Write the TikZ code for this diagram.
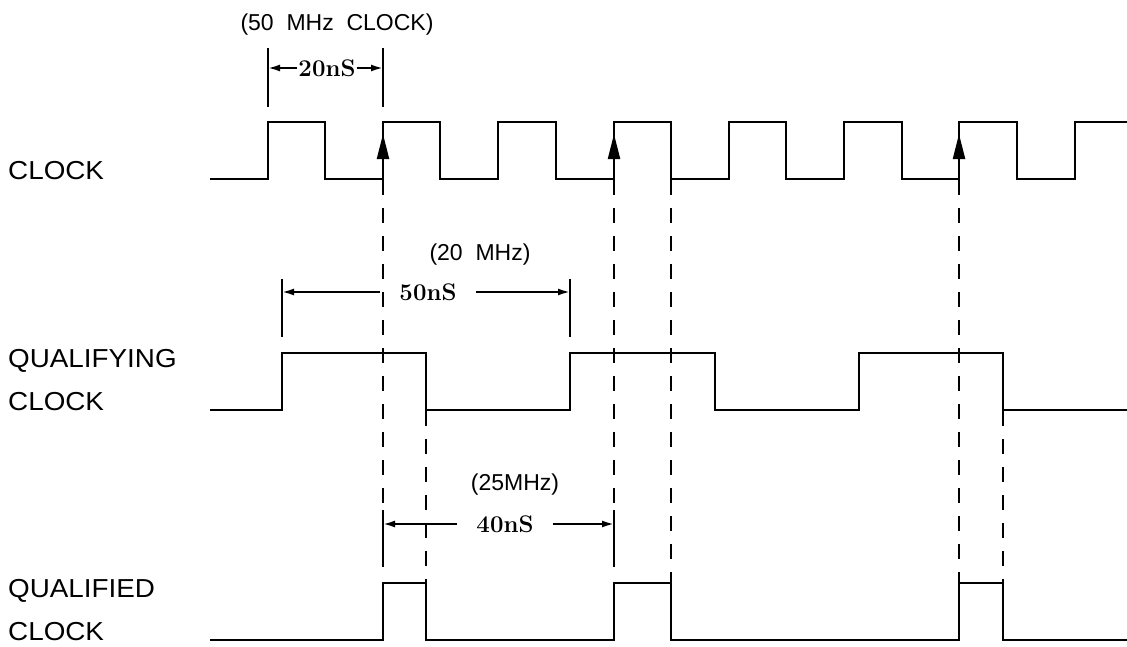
\documentclass[tikz,border=0pt]{standalone}
\usepackage{fontspec}
\newfontfamily\plotfont{Liberation Sans}
\newfontfamily\signalfont[FakeStretch=1.07]{Liberation Sans}
\usetikzlibrary{arrows.meta,positioning}

\begin{document}
\begin{tikzpicture}[x=1pt,y=-1pt]
\tikzstyle{wave}=[line width=2.2pt, line join=miter]
\tikzstyle{guide}=[line width=2.2pt, dash pattern=on 15pt off 13pt]
\tikzstyle{ext}=[line width=2pt]
\tikzstyle{dim}=[line width=2pt, -{Latex[length=12pt,width=7pt]}]
\tikzstyle{trig}=[line width=2.2pt, -{Triangle[length=25pt,width=12pt]}]
\tikzstyle{sig}=[font=\signalfont\fontsize{26}{30}\selectfont, anchor=base west, inner sep=0pt]
\tikzstyle{freq}=[font=\plotfont\fontsize{23}{27}\selectfont, anchor=base, inner sep=0pt]
\tikzstyle{period}=[font=\fontsize{24}{28}\selectfont\bfseries, inner ysep=0pt]
  \useasboundingbox (0,0) rectangle (1127,646);
  % signal names
  \node[sig] (clk) at (8,179) {CLOCK};
  \node[sig] (qing) at (8,367) {QUALIFYING};
  \node[sig] (qingclk) at (8,410) {CLOCK};
  \node[sig] (qed) at (8,597) {QUALIFIED};
  \node[sig] (qedclk) at (8,640) {CLOCK};
  % clock
  \draw[wave] (210,179) -- (268,179) -- (268,122) -- (325,122) -- (325,179)
    -- (383,179) -- (383,122) -- (440,122) -- (440,179) -- (498,179) -- (498,122)
    -- (556,122) -- (556,179) -- (614,179) -- (614,122) -- (671,122) -- (671,179)
    -- (729,179) -- (729,122) -- (786,122) -- (786,179) -- (844,179) -- (844,122)
    -- (902,122) -- (902,179) -- (959,179) -- (959,122) -- (1017,122) -- (1017,179)
    -- (1075,179) -- (1075,122) -- (1127,122);
  % qualifying clock
  \draw[wave] (210,410) -- (282,410) -- (282,353) -- (426,353) -- (426,410)
    -- (570,410) -- (570,353) -- (715,353) -- (715,410) -- (859,410) -- (859,353)
    -- (1003,353) -- (1003,410) -- (1127,410);
  % qualified clock
  \draw[wave] (210,640) -- (383,640) -- (383,583) -- (426,583) -- (426,640)
    -- (614,640) -- (614,583) -- (671,583) -- (671,640) -- (959,640) -- (959,583)
    -- (1003,583) -- (1003,640) -- (1127,640);
  % sampling edges
  \draw[trig] (383,179) -- (383,134);
  \draw[trig] (614,179) -- (614,134);
  \draw[trig] (959,179) -- (959,134);
  % guides
  \draw[guide] (383,180) -- (383,510);
  \draw[guide] (614,180) -- (614,510);
  \draw[guide] (671,180) -- (671,582);
  \draw[guide] (959,180) -- (959,582);
  \draw[guide] (426,411) -- (426,582);
  \draw[guide] (1003,411) -- (1003,582);
  % 20nS
  \node[freq] (f50) at (337,30) {(50\ \ MHz\ \ CLOCK)};
  \coordinate (a20) at (268,68);
  \coordinate (b20) at (383,68);
  \node[period, inner xsep=1pt] (t20) at (327,68) {20nS};
  \draw[ext] (268,48) -- (268,107);
  \draw[ext] (383,48) -- (383,107);
  \draw[dim] (t20) -- (a20);
  \draw[dim] (t20) -- (b20);
  % 50nS
  \node[freq] (f20) at (480,260) {(20\ \ MHz)};
  \coordinate (a50) at (282,292);
  \coordinate (b50) at (570,292);
  \node[period, inner xsep=19pt] (t50) at (428,292) {50nS};
  \draw[ext] (282,279) -- (282,337);
  \draw[ext] (570,279) -- (570,337);
  \draw[dim] (t50) -- (a50);
  \draw[dim] (t50) -- (b50);
  % 40nS
  \node[freq] (f25) at (515,490) {(25MHz)};
  \coordinate (a40) at (383,524);
  \coordinate (b40) at (614,524);
  \node[period, inner xsep=19pt] (t40) at (505,524) {40nS};
  \draw[ext] (383,510) -- (383,567);
  \draw[ext] (614,510) -- (614,567);
  \draw[dim] (t40) -- (a40);
  \draw[dim] (t40) -- (b40);
\end{tikzpicture}
\end{document}
